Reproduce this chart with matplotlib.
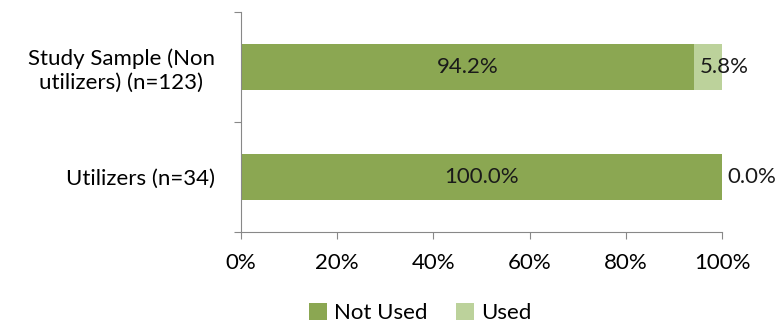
import matplotlib.pyplot as plt
import numpy as np

plt.rcParams['font.family'] = ['Lato', 'DejaVu Sans']

# data
groups = ['Utilizers (n=34)', 'Study Sample (Non\nutilizers) (n=123)']
not_used = [100.0, 94.2]
used = [0.0, 5.8]
series_names = ['Not Used', 'Used']
colors = ['#8BA752', '#BCD29B']

fig = plt.figure(figsize=(7.84, 3.24), dpi=100)
ax = fig.add_axes([0.3074, 0.284, 0.6136, 0.679])

pos = np.arange(len(groups)) + 0.5
ax.barh(pos, not_used, height=0.41, color=colors[0], label=series_names[0])
ax.barh(pos, used, left=not_used, height=0.41, color=colors[1], label=series_names[1])

# value labels
for p, nu, u in zip(pos, not_used, used):
    ax.text(nu / 2, p, f'{nu:.1f}%', ha='center', va='center', fontsize=16, color='#1a1a1a')
    ax.text(nu + 1.2, p, f'{u:.1f}%', ha='left', va='center', fontsize=16, color='#1a1a1a')

ax.set_xlim(0, 100)
ax.set_ylim(0, 2)
ax.set_xticks(np.arange(0, 101, 20))
ax.set_xticklabels([f'{v}%' for v in range(0, 101, 20)], fontsize=16)
ax.set_yticks([0, 1, 2])
ax.set_yticklabels([])
ax.set_yticks(pos, minor=True)
ax.set_yticklabels(groups, minor=True, fontsize=16, multialignment='center')
ax.tick_params(axis='y', which='minor', length=0, pad=19)
ax.tick_params(axis='y', which='major', length=5, color='#888888')
ax.tick_params(axis='x', length=5, color='#888888', pad=10)

for s in ['top', 'right']:
    ax.spines[s].set_visible(False)
for s in ['left', 'bottom']:
    ax.spines[s].set_color('#888888')

fig.legend(loc='center', bbox_to_anchor=(0.536, 0.034), ncol=2, frameon=False,
           fontsize=16, handlelength=0.8, handleheight=0.8, handletextpad=0.3,
           columnspacing=1.3)

plt.savefig('out.png')
